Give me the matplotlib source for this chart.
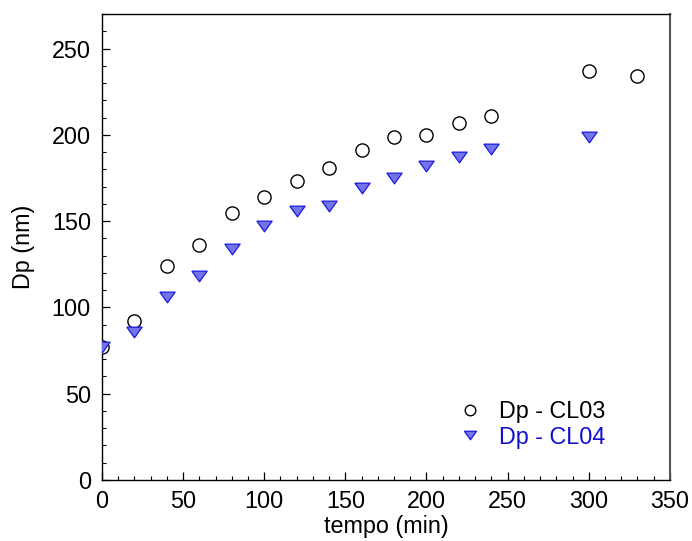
import matplotlib.pyplot as plt
from matplotlib.ticker import MultipleLocator

plt.rcParams['font.family'] = ['Liberation Sans', 'DejaVu Sans']

# tempo (min) and particle diameter (nm)
tempo_cl03 = [0, 20, 40, 60, 80, 100, 120, 140, 160, 180, 200, 220, 240, 300, 330]
dp_cl03 = [77, 92, 124, 136, 155, 164, 173, 181, 191, 199, 200, 207, 211, 237, 234]

tempo_cl04 = [0, 20, 40, 60, 80, 100, 120, 140, 160, 180, 200, 220, 240, 300]
dp_cl04 = [77, 86, 106, 118, 134, 147, 156, 159, 169, 175, 182, 187, 192, 199]

fs = 16.8

fig = plt.figure(figsize=(6.92, 5.41), dpi=100)
ax = fig.add_axes([0.1474, 0.1128, 0.8206, 0.8612])

# flatter down-pointing triangle, like the original
tri = [(-1, 0.7), (1, 0.7), (0, -0.7), (-1, 0.7)]

ax.plot(tempo_cl03, dp_cl03, linestyle='none', marker='o', markersize=9.5,
        markerfacecolor='white', markeredgecolor='black', markeredgewidth=1.0,
        label='Dp - CL03', zorder=3)
ax.plot(tempo_cl04, dp_cl04, linestyle='none', marker=tri, markersize=11,
        markerfacecolor='#7474e6', markeredgecolor='#1a1ae0', markeredgewidth=0.9,
        label='Dp - CL04', zorder=4)

ax.set_xlim(0, 350)
ax.set_ylim(0, 270)
ax.xaxis.set_major_locator(MultipleLocator(50))
ax.xaxis.set_minor_locator(MultipleLocator(10))
ax.yaxis.set_major_locator(MultipleLocator(50))
ax.yaxis.set_minor_locator(MultipleLocator(10))

ax.tick_params(which='both', direction='in', top=False, right=False, labelsize=fs)
ax.tick_params(axis='x', pad=7)
ax.tick_params(axis='y', pad=8)
ax.tick_params(which='major', length=6, width=0.9)
ax.tick_params(which='minor', length=3, width=0.8)

for s in ax.spines.values():
    s.set_linewidth(1.0)
ax.spines['right'].set_color('#555555')
ax.spines['right'].set_linewidth(1.5)

ax.set_xlabel('tempo (min)', fontsize=fs, labelpad=2)
ax.set_ylabel('Dp (nm)', fontsize=fs, labelpad=12)

ax.legend(loc='upper left', bbox_to_anchor=(0.627, 0.171), frameon=False,
          fontsize=fs, handlelength=1.0, handletextpad=0.75, markerscale=0.8,
          borderpad=0, borderaxespad=0, labelspacing=0.1,
          labelcolor=['black', '#1010d0'])

fig.savefig('out.png', dpi=100)
